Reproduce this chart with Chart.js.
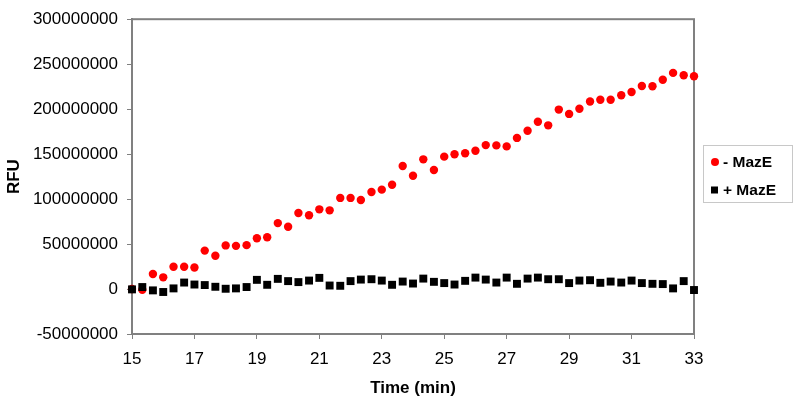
<!DOCTYPE html>
<html>
<head>
<meta charset="utf-8">
<script src="https://cdn.jsdelivr.net/npm/chart.js@4/dist/chart.umd.min.js"></script>
<style>
html,body{margin:0;padding:0;background:#fff;}
#wrap{width:800px;height:407px;}
</style>
</head>
<body>
<div id="wrap"><canvas id="c" width="800" height="407"></canvas></div>
<script>
const times = [15, 15.33, 15.67, 16, 16.33, 16.67, 17, 17.33, 17.67, 18, 18.33, 18.67, 19, 19.33, 19.67, 20, 20.33, 20.67, 21, 21.33, 21.67, 22, 22.33, 22.67, 23, 23.33, 23.67, 24, 24.33, 24.67, 25, 25.33, 25.67, 26, 26.33, 26.67, 27, 27.33, 27.67, 28, 28.33, 28.67, 29, 29.33, 29.67, 30, 30.33, 30.67, 31, 31.33, 31.67, 32, 32.33, 32.67, 33];
const minusMazE = [0, -800000, 16700000, 13000000, 24700000, 24700000, 24000000, 42700000, 37000000, 48500000, 48000000, 48800000, 56500000, 57500000, 73300000, 69300000, 84600000, 82000000, 88600000, 87500000, 101300000, 101300000, 99000000, 107900000, 110500000, 116000000, 136800000, 126000000, 144200000, 132400000, 147200000, 149800000, 151000000, 153800000, 160000000, 159700000, 158600000, 168000000, 176000000, 186000000, 182000000, 199500000, 194700000, 200500000, 208500000, 210400000, 210400000, 215500000, 219000000, 225700000, 225400000, 232600000, 240300000, 237700000, 236600000];
const plusMazE = [-400000, 2200000, -1500000, -3300000, 700000, 7200000, 5000000, 4400000, 2500000, 300000, 700000, 2200000, 10200000, 4700000, 11300000, 8800000, 7700000, 9400000, 12400000, 3900000, 3600000, 8800000, 10500000, 10900000, 9400000, 4700000, 8300000, 6100000, 11600000, 8000000, 6600000, 5000000, 9100000, 12700000, 10500000, 7200000, 12700000, 5800000, 11600000, 12700000, 10900000, 10900000, 6600000, 9400000, 9800000, 6900000, 8300000, 7200000, 9400000, 6600000, 5800000, 5500000, 700000, 8800000, -1100000];
const seriesNames = ['- MazE', '+ MazE'];
const xTicks = [15, 17, 19, 21, 23, 25, 27, 29, 31, 33];
const yTicks = [-50000000, 0, 50000000, 100000000, 150000000, 200000000, 250000000, 300000000];

const GRAY = '#808080';
const FONT = "'Liberation Sans', Arial, sans-serif";

const frame = {
  id: 'frame',
  beforeDatasetsDraw(chart) {
    const {ctx, chartArea: a} = chart;
    ctx.save();
    ctx.strokeStyle = GRAY;
    ctx.lineWidth = 2;
    ctx.strokeRect(a.left, a.top, a.right - a.left, a.bottom - a.top);
    ctx.restore();
  }
};

const legendBox = {
  id: 'legendBox',
  afterDraw(chart) {
    const {ctx} = chart;
    ctx.save();
    ctx.strokeStyle = '#c8c8c8';
    ctx.lineWidth = 1;
    ctx.strokeRect(703.5, 145.5, 89, 57);
    ctx.font = "bold 15.5px " + FONT;
    ctx.textBaseline = 'middle';
    chart.data.datasets.forEach((ds, i) => {
      const y = 162 + i * 28;
      ctx.fillStyle = ds.backgroundColor;
      if (ds.pointStyle === 'rect') {
        ctx.fillRect(711, y - 3.5, 7, 7);
      } else {
        ctx.beginPath();
        ctx.arc(715, y, 4, 0, Math.PI * 2);
        ctx.fill();
      }
      ctx.fillStyle = '#000';
      ctx.fillText(ds.label, 723, y + 1);
    });
    ctx.restore();
  }
};

new Chart(document.getElementById('c'), {
  type: 'scatter',
  data: {
    datasets: [
      {
        label: seriesNames[0],
        data: times.map((t, i) => ({x: t, y: minusMazE[i]})),
        backgroundColor: '#ff0000',
        borderColor: '#ff0000',
        pointStyle: 'circle',
        pointRadius: 4.2,
        borderWidth: 0,
        clip: false,
        order: 2
      },
      {
        label: seriesNames[1],
        data: times.map((t, i) => ({x: t, y: plusMazE[i]})),
        backgroundColor: '#000000',
        borderColor: '#000000',
        pointStyle: 'rect',
        pointRadius: 5.6,
        borderWidth: 0,
        clip: false,
        order: 1
      }
    ]
  },
  options: {
    responsive: false,
    animation: false,
    devicePixelRatio: 1,
    layout: {padding: {left: 0, right: 106, top: 14, bottom: 0}},
    plugins: {legend: {display: false}, tooltip: {enabled: false}},
    scales: {
      x: {
        type: 'linear',
        min: 15, max: 33,
        afterBuildTicks(s) { s.ticks = xTicks.map(v => ({value: v})); },
        afterFit(s) { s.height = 73; },
        grid: {drawOnChartArea: false, drawTicks: true, tickLength: 5, color: GRAY, lineWidth: 1},
        border: {display: true, color: GRAY, width: 2},
        ticks: {color: '#000', font: {family: FONT, size: 17}, padding: 10, maxRotation: 0, autoSkip: false},
        title: {display: true, text: 'Time (min)', color: '#000', font: {family: FONT, size: 17, weight: 'bold'}, padding: {top: 0, bottom: 8}}
      },
      y: {
        min: -50000000, max: 300000000,
        afterBuildTicks(s) { s.ticks = yTicks.map(v => ({value: v})); },
        afterFit(s) { s.width = 132; },
        grid: {drawOnChartArea: false, drawTicks: true, tickLength: 5, color: GRAY, lineWidth: 1},
        border: {display: true, color: GRAY, width: 2},
        ticks: {color: '#000', font: {family: FONT, size: 17}, padding: 9, callback: v => String(v)},
        title: {display: true, text: 'RFU', color: '#000', font: {family: FONT, size: 17, weight: 'bold'}, padding: {top: 4, bottom: 0}}
      }
    }
  },
  plugins: [frame, legendBox]
});
</script>
</body>
</html>
